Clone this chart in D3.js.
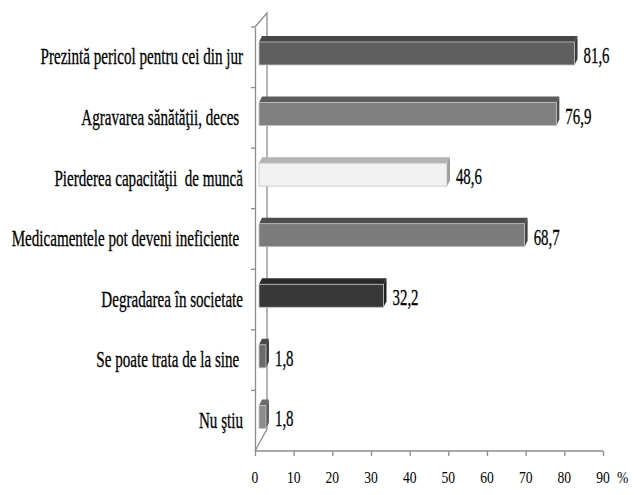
<!DOCTYPE html>
<html><head><meta charset="utf-8">
<script src="https://cdn.jsdelivr.net/npm/d3@7"></script>
<style>body{margin:0;background:#fff}svg{display:block}text{white-space:pre}</style>
</head><body><svg id="c" width="634" height="495"></svg>
<script>
const categories = [
  "Prezintă pericol pentru cei din jur",
  "Agravarea sănătăţii, deces ",
  "Pierderea capacităţii  de muncă",
  "Medicamentele pot deveni ineficiente ",
  "Degradarea în societate",
  "Se poate trata de la sine ",
  "Nu ştiu"
];
const values = [81.6, 76.9, 48.6, 68.7, 32.2, 1.8, 1.8];
const valueLabels = ["81,6", "76,9", "48,6", "68,7", "32,2", "1,8", "1,8"];
const xTicks = [0, 10, 20, 30, 40, 50, 60, 70, 80, 90];
const unitLabel = "%";

const frontColors = ["#5f5f5f", "#808080", "#f2f2f2", "#7b7b7b", "#383838", "#6b6b6b", "#8b8b8b"];
const topColors   = ["#474747", "#5c5c5c", "#b3b3b3", "#4e4e4e", "#2a2a2a", "#4a4a4a", "#6b6b6b"];
const sideColors  = ["#3a3a3a", "#4f4f4f", "#9a9a9a", "#444444", "#222222", "#3f3f3f", "#5c5c5c"];

const svg = d3.select("#c");
const x = d3.scaleLinear().domain([0, 90]).range([255, 603]);
const y = d3.scaleBand().domain(categories).range([27, 451]);
const serif = "Liberation Serif";
const axisCol = "#8c8c8c";

// back wall line + diagonals
const g0 = svg.append("g").attr("stroke", axisCol).attr("stroke-width", 1.3).attr("fill", "none");
g0.append("path").attr("d", `M${x(0)},${y.range()[0]} L${x(0)+12},${y.range()[0]-14} L${x(0)+12},${y.range()[1]-22} L${x(0)},${y.range()[1]}`);

// front y axis
const yAxis = d3.axisLeft(y).tickSize(0).tickFormat("");
const ga = svg.append("g").attr("transform", `translate(${x(0)},0)`).call(yAxis);
ga.select(".domain").attr("stroke", axisCol).attr("stroke-width", 1.3);
const bounds = categories.map(c => y(c));
svg.append("g").selectAll("line").data(bounds).join("line")
  .attr("x1", x(0) - 4).attr("x2", x(0)).attr("y1", d => d).attr("y2", d => d)
  .attr("stroke", axisCol).attr("stroke-width", 1.3);

// x axis
const xAxis = d3.axisBottom(x).tickValues(xTicks).tickSize(5).tickFormat("");
const gx = svg.append("g").attr("transform", `translate(0,${y.range()[1]})`).call(xAxis);
gx.select(".domain").attr("stroke", axisCol).attr("stroke-width", 1.3).attr("d", `M${x(0)},0H${x(90)}`);
gx.selectAll(".tick line").attr("stroke", axisCol).attr("stroke-width", 1.3);
svg.append("g").selectAll("text").data(xTicks).join("text")
  .attr("transform", d => `translate(${x(d)},483) scale(0.8,1)`)
  .attr("text-anchor", "middle").attr("font-family", serif).attr("font-size", 17)
  .attr("fill", "#000").text(d => d);
svg.append("text").attr("transform", `translate(617,483) scale(0.8,1)`)
  .attr("font-family", serif).attr("font-size", 17).text(unitLabel);

// bars
const bh = 23, dx = 3, dy = 6, off = 4;
const bars = svg.append("g");
categories.forEach((c, i) => {
  const cy = y(c) + y.bandwidth() / 2 - 3.8;
  const x0 = x(0) + off, x1 = x(values[i]) + off;
  const t = cy - bh / 2, b = cy + bh / 2;
  bars.append("path").attr("d", `M${x0},${t} L${x0+dx},${t-dy} L${x1+dx},${t-dy} L${x1},${t} Z`).attr("fill", topColors[i]);
  bars.append("path").attr("d", `M${x1},${t} L${x1+dx},${t-dy} L${x1+dx},${b-dy} L${x1},${b} Z`).attr("fill", sideColors[i]);
  bars.append("rect").attr("x", x0).attr("y", t).attr("width", x1 - x0).attr("height", bh)
    .attr("fill", frontColors[i]).attr("stroke", "#c4c4c4").attr("stroke-width", 0.8);
  svg.append("text").attr("transform", `translate(${x1 + dx + 6},${cy + 9.5}) scale(0.62,1)`)
    .attr("font-family", serif).attr("font-size", 24).attr("fill", "#000")
    .attr("stroke", "#000").attr("stroke-width", 0.3).text(valueLabels[i]);
  svg.append("text").attr("transform", `translate(243,${cy + 11}) scale(0.657,1)`)
    .attr("text-anchor", "end").attr("font-family", serif).attr("font-size", 23).attr("fill", "#000")
    .attr("stroke", "#000").attr("stroke-width", 0.3).text(c);
});
</script></body></html>
